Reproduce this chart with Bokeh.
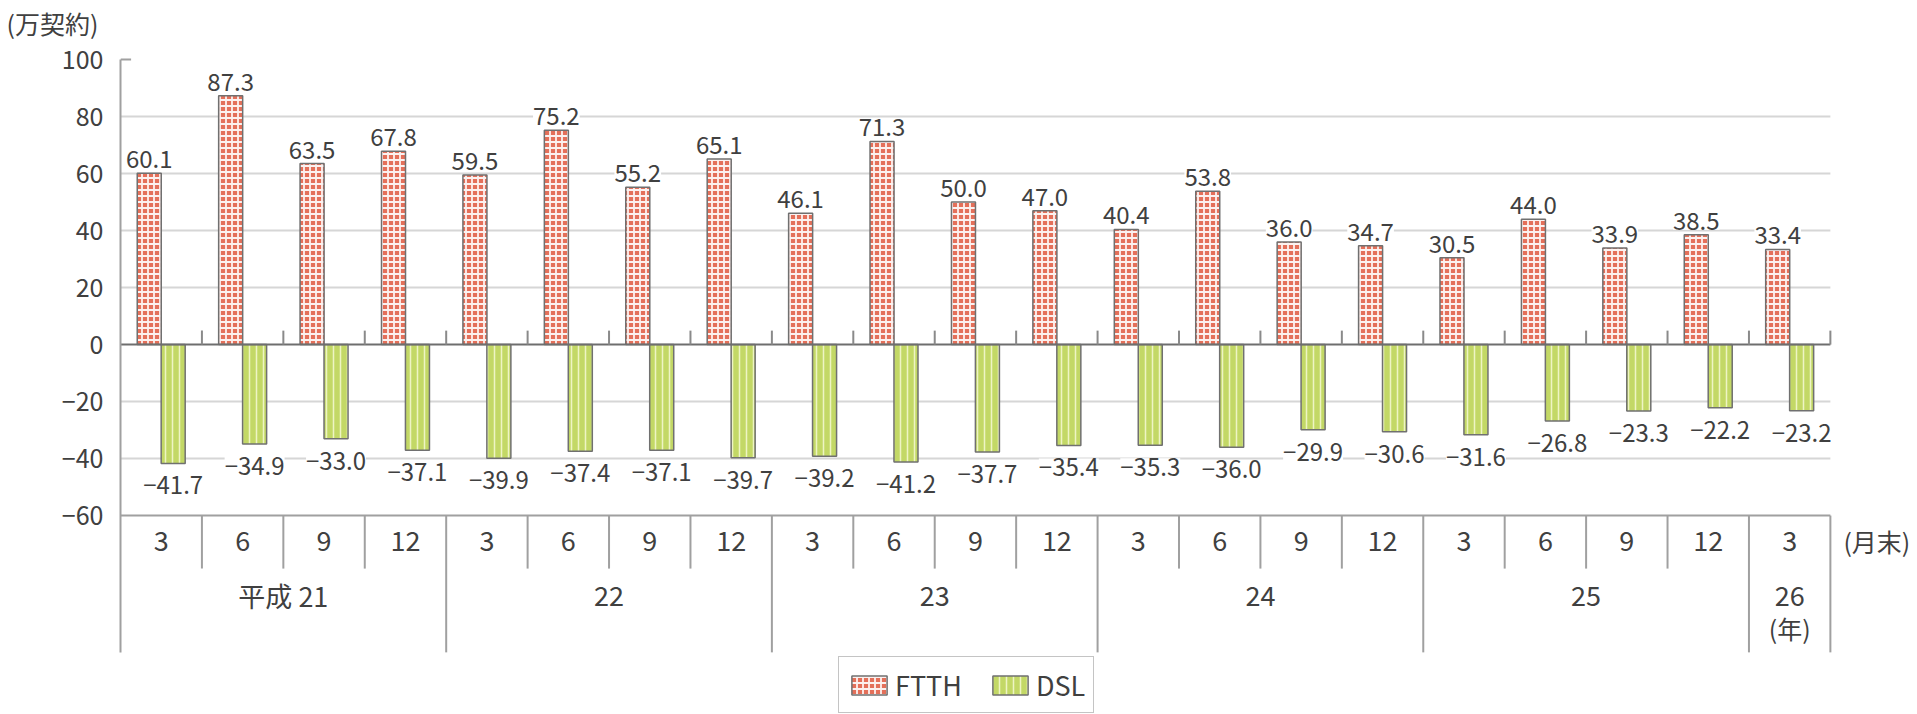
import numpy as np
from bokeh.plotting import figure
from bokeh.models import ColumnDataSource, Range1d, FixedTicker, LabelSet
from bokeh.embed import file_html
from bokeh.resources import INLINE
from bokeh.core.properties import value

# ---------------- data ----------------
years = ["平成 21", "22", "23", "24", "25", "26"]
year_counts = [4, 4, 4, 4, 4, 1]
months = ["3", "6", "9", "12"] * 5 + ["3"]
ftth = [60.1, 87.3, 63.5, 67.8, 59.5, 75.2, 55.2, 65.1, 46.1, 71.3, 50.0,
        47.0, 40.4, 53.8, 36.0, 34.7, 30.5, 44.0, 33.9, 38.5, 33.4]
dsl = [-41.7, -34.9, -33.0, -37.1, -39.9, -37.4, -37.1, -39.7, -39.2, -41.2, -37.7,
       -35.4, -35.3, -36.0, -29.9, -30.6, -31.6, -26.8, -23.3, -22.2, -23.2]
y_ticks = [-60, -40, -20, 0, 20, 40, 60, 80, 100]
unit_label = "(万契約)"
month_unit = "(月末)"
year_unit = "(年)"
series_names = ["FTTH", "DSL"]

# ---------------- style ----------------
JP = "Noto Sans CJK JP"
TXT = "#404040"
GRID = "#d6d6d6"
LINE = "#a0a0a0"
FTTH_FILL = "#e4705a"
DSL_FILL = "#c3d866"

n = len(months)
idx = np.arange(n)
centers = idx + 0.5
half_w = 0.147
bar_w = 0.295

# table geometry (data units on the value axis)
y_min_axis = y_ticks[0]
month_row_bottom = -78.6
table_bottom = -108.0

p = figure(width=1917, height=714,
           x_range=Range1d(0, 22.07), y_range=Range1d(-129.8, 106.0),
           output_backend="svg", toolbar_location=None,
           x_axis_location=None,
           min_border_left=120, min_border_right=0,
           min_border_top=42, min_border_bottom=0,
           outline_line_color=None, background_fill_color="white")
p.xgrid.visible = False
p.ygrid.visible = False

# unit label as title, top-left
p.title.text = unit_label
p.title.align = "left"
p.title.offset = -114
p.title.standoff = 4
p.title.text_font = JP
p.title.text_font_size = "25px"
p.title.text_font_style = "normal"
p.title.text_color = TXT

# y axis
ax = p.yaxis[0]
ax.ticker = FixedTicker(ticks=y_ticks)
ax.bounds = (table_bottom, y_ticks[-1])
ax.major_tick_out = 0
ax.major_tick_in = 0
ax.minor_tick_out = 0
ax.minor_tick_in = 0
ax.axis_line_color = LINE
ax.axis_line_width = 2
ax.major_label_standoff = 17
ax.major_label_text_font = JP
ax.major_label_text_font_size = "25px"
ax.major_label_text_color = TXT
ax.major_label_overrides = {t: (("−" + str(abs(t))) if t < 0 else str(t)) for t in y_ticks}

# gridlines (inside value range except 0, -60 and 100)
grid_vals = [t for t in y_ticks if t not in (0, y_ticks[0], y_ticks[-1])]
p.segment(x0=[0] * len(grid_vals), x1=[n] * len(grid_vals), y0=grid_vals, y1=grid_vals,
          line_color=GRID, line_width=2)
# small stub at top tick
p.segment(x0=[0], x1=[0.13], y0=[y_ticks[-1]], y1=[y_ticks[-1]], line_color=LINE, line_width=2)

# bars
src = ColumnDataSource(dict(
    xf=centers - half_w, xd=centers + half_w, ftth=ftth, dsl=dsl,
    fl=[f"{v:.1f}" for v in ftth],
    dl=["−" + f"{abs(v):.1f}" for v in dsl],
))
p.vbar(x="xf", top="ftth", bottom=0, width=bar_w, source=src,
       fill_color=FTTH_FILL, hatch_pattern="+", hatch_color="white",
       hatch_scale=6, hatch_weight=1.8, hatch_alpha=0.9,
       line_color="#707070", line_width=1.5, legend_label=series_names[0])
p.vbar(x="xd", top=0, bottom="dsl", width=bar_w, source=src,
       fill_color=DSL_FILL, hatch_pattern="|", hatch_color="#eef4c4",
       hatch_scale=7, hatch_weight=1.5,
       line_color="#707070", line_width=1.5, legend_label=series_names[1])

# zero line and boundary ticks
p.segment(x0=[0], x1=[n], y0=[0], y1=[0], line_color="#6e6e6e", line_width=2)
bnd = idx + 1
p.segment(x0=bnd, x1=bnd, y0=[0] * n, y1=[4.9] * n, line_color="#8a8a8a", line_width=2)

# table: top line and separators
p.segment(x0=[0], x1=[n], y0=[y_min_axis], y1=[y_min_axis], line_color=LINE, line_width=2)
year_ends = np.cumsum(year_counts)
year_starts = year_ends - np.array(year_counts)
month_seps = [b for b in range(1, n) if b not in set(year_ends)]
p.segment(x0=month_seps, x1=month_seps, y0=[y_min_axis] * len(month_seps),
          y1=[month_row_bottom] * len(month_seps), line_color=LINE, line_width=2)
p.segment(x0=list(year_ends), x1=list(year_ends), y0=[y_min_axis] * len(year_ends),
          y1=[table_bottom] * len(year_ends), line_color=LINE, line_width=2)

# month labels
p.text(x=centers, y=[-68.8] * n, text=months, text_font=value(JP),
       text_font_size=value("27px"), text_color=TXT,
       text_align="center", text_baseline="middle")
# year labels
ycent = (year_starts + year_ends) / 2.0
p.text(x=ycent, y=[-88.1] * len(years), text=years, text_font=value(JP),
       text_font_size=value("27px"), text_color=TXT,
       text_align="center", text_baseline="middle")
p.text(x=[ycent[-1]], y=[-99.6], text=[year_unit], text_font=value(JP),
       text_font_size=value("25px"), text_color=TXT,
       text_align="center", text_baseline="middle")
p.text(x=[n + 0.16], y=[-68.8], text=[month_unit], text_font=value(JP),
       text_font_size=value("25px"), text_color=TXT,
       text_align="left", text_baseline="middle")

# data labels
p.add_layout(LabelSet(x="xf", y="ftth", text="fl", source=src,
                      text_align="center", text_baseline="bottom", y_offset=5,
                      text_font=value(JP), text_font_size=value("24px"),
                      text_color=TXT, background_fill_color="white"))
p.add_layout(LabelSet(x="xd", y="dsl", text="dl", source=src,
                      text_align="center", text_baseline="top", y_offset=-13,
                      text_font=value(JP), text_font_size=value("24px"),
                      text_color=TXT, background_fill_color="white"))

# legend
lg = p.legend[0]
lg.location = (718, 1)
lg.orientation = "horizontal"
lg.label_text_font = JP
lg.label_text_font_size = "27px"
lg.label_text_color = TXT
lg.glyph_width = 44
lg.glyph_height = 24
lg.border_line_color = "#8a8a8a"
lg.border_line_width = 1.5
lg.padding = 8
lg.margin = 0
lg.spacing = 26
lg.label_standoff = 4
lg.background_fill_alpha = 1.0

open("out.html", "w").write(file_html(p, INLINE))
